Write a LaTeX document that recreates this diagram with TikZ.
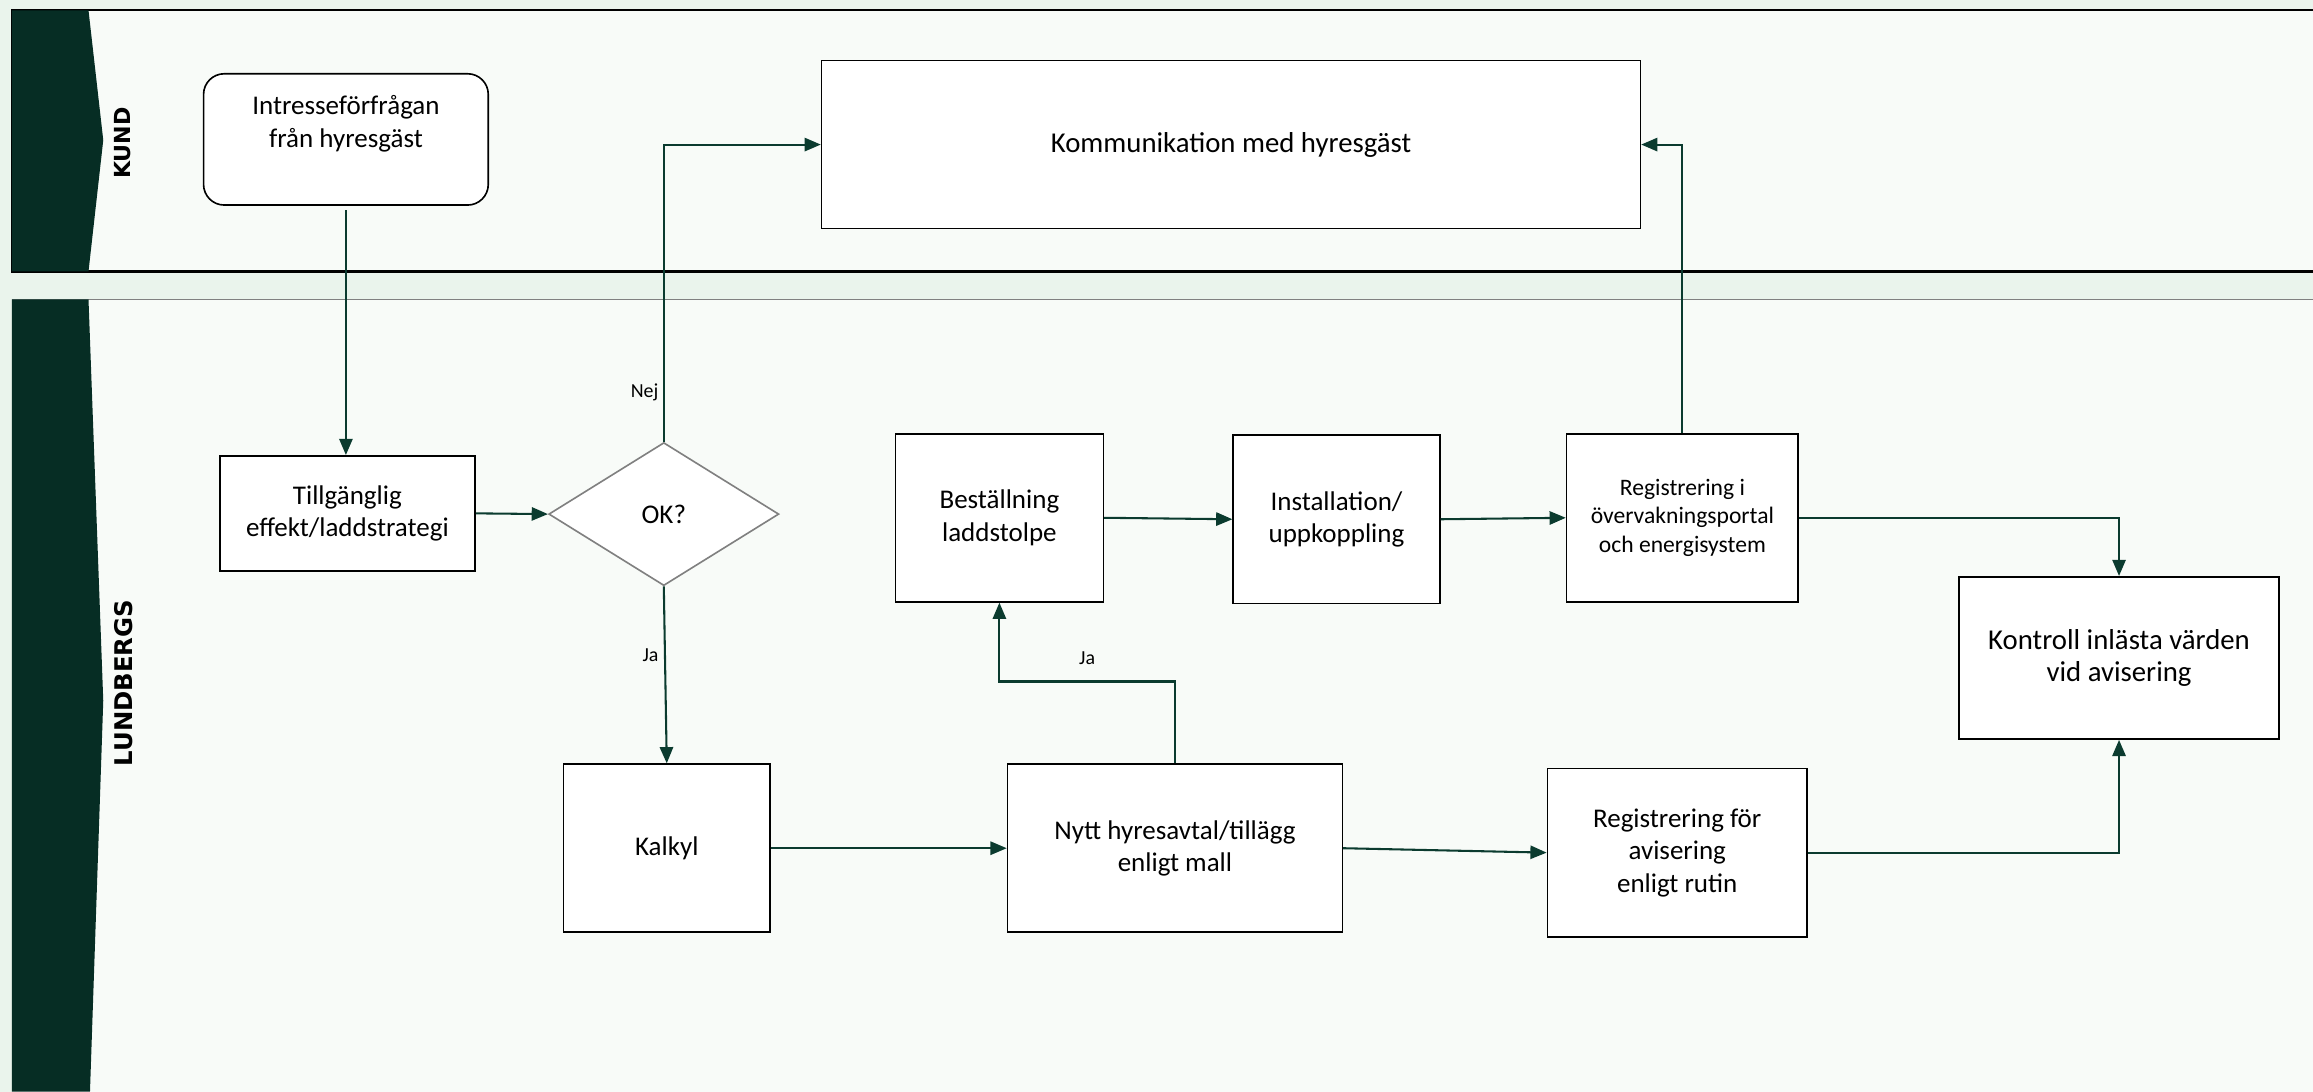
\documentclass[tikz,border=0pt]{standalone}
\usepackage{fontspec}
\setmainfont{Carlito}
\newfontfamily\lanefont{DejaVu Sans}
\usetikzlibrary{arrows.meta,shapes.geometric}
\definecolor{bgout}{HTML}{EAF4EC}
\definecolor{lanebg}{HTML}{F8FBF8}
\definecolor{hdr}{HTML}{062D24}
\definecolor{lineg}{HTML}{0B3B2F}
\tikzset{
  box/.style={draw=black, line width=1.1pt, fill=white, align=center, inner sep=0pt,
    font=\fontsize{18.3}{22}\selectfont},
  txt/.style={align=center, inner sep=0pt, font=\fontsize{18.3}{22}\selectfont},
  conn/.style={draw=lineg, line width=1.4pt, -{Triangle[length=11pt,width=9pt]}},
  lbl/.style={font=\fontsize{13.5}{16}\selectfont, inner sep=0pt},
  lanelbl/.style={font=\lanefont\bfseries\fontsize{15}{18}\selectfont, rotate=90, inner sep=0pt}
}
\begin{document}
\begin{tikzpicture}[x=1pt,y=-1pt]
\useasboundingbox (0,0) rectangle (1568,740);
% background and lanes
\fill[bgout] (0,0) rectangle (1568,740);
\fill[lanebg] (8,7) rectangle (1568,184);
\draw[black,line width=1.5pt] (1568,7) -- (8,7) -- (8,184) -- (1568,184);
\fill[lanebg] (8,203) rectangle (1568,740);
\draw[gray,line width=1.2pt] (8,203) -- (1568,203);
\fill[hdr] (8,7) -- (60,7) -- (70,95) -- (60,184) -- (8,184) -- cycle;
\fill[hdr] (8,203) -- (60,203) -- (70,475) -- (61,740) -- (8,740) -- cycle;
\node[lanelbl] (kund) at (83,97) {KUND};
\node[lanelbl, font=\lanefont\bfseries\fontsize{16.5}{18}\selectfont] (lund) at (84,463) {LUNDBERGS};
% nodes
\node[box, rounded corners=14pt, minimum width=193pt, minimum height=89pt] (intr) at (234.5,94.5) {};
\node[txt] (intrtxt) at (234.5,84) {Intresseförfrågan\\från hyresgäst};
\node[box, minimum width=555pt, minimum height=114pt, font=\fontsize{19.5}{22}\selectfont] (komm) at (834.5,98) {Kommunikation med hyresgäst};
\node[box, minimum width=173pt, minimum height=78pt] (till) at (235.5,348) {Tillgänglig\\effekt/laddstrategi};
\node[diamond, draw=gray, line width=1.1pt, fill=white, aspect=1.6, minimum width=156pt, minimum height=97pt, inner sep=0pt, font=\fontsize{18.3}{22}\selectfont] (ok) at (450,348.5) {OK?};
\node[box, minimum width=140pt, minimum height=114pt] (kalk) at (452,575) {Kalkyl};
\node[box, minimum width=141pt, minimum height=114pt] (best) at (677.5,351) {Beställning\\laddstolpe};
\node[box, minimum width=140pt, minimum height=114pt] (inst) at (906,352) {Installation/\\uppkoppling};
\node[box, minimum width=157pt, minimum height=114pt, font=\fontsize{16}{19.5}\selectfont] (regi) at (1140.5,351) {Registrering i\\övervakningsportal\\och energisystem};
\node[box, minimum width=217pt, minimum height=110pt, font=\fontsize{19.5}{22}\selectfont] (kont) at (1436.5,446) {Kontroll inlästa värden\\vid avisering};
\node[box, minimum width=227pt, minimum height=114pt] (nytt) at (796.5,575) {Nytt hyresavtal/tillägg\\enligt mall};
\node[box, minimum width=176pt, minimum height=114pt] (regf) at (1137,578) {Registrering för\\avisering\\enligt rutin};
% connectors
\draw[conn] ([yshift=-3pt]intr.south) -- (intr.south |- till.north);
\draw[conn] (till.east) -- (ok.west);
\draw[conn] (ok.north) |- (komm.west);
\node[lbl] (nej) at (437,266) {Nej};
\draw[conn] (ok.south) -- (kalk.north);
\node[lbl] (ja1) at (441,444) {Ja};
\draw[conn] (kalk.east) -- (nytt.west);
\coordinate (bend) at (796.5,462);
\draw[conn] (nytt.north) -- (bend) -| (best.south);
\node[lbl] (ja2) at (737,446) {Ja};
\draw[conn] (best.east) -- (inst.west);
\draw[conn] (inst.east) -- (regi.west);
\draw[conn] (regi.north) |- (komm.east);
\draw[conn] (regi.east) -| (kont.north);
\draw[conn] (nytt.east) -- (regf.west);
\draw[conn] (regf.east) -| (kont.south);
\end{tikzpicture}
\end{document}
